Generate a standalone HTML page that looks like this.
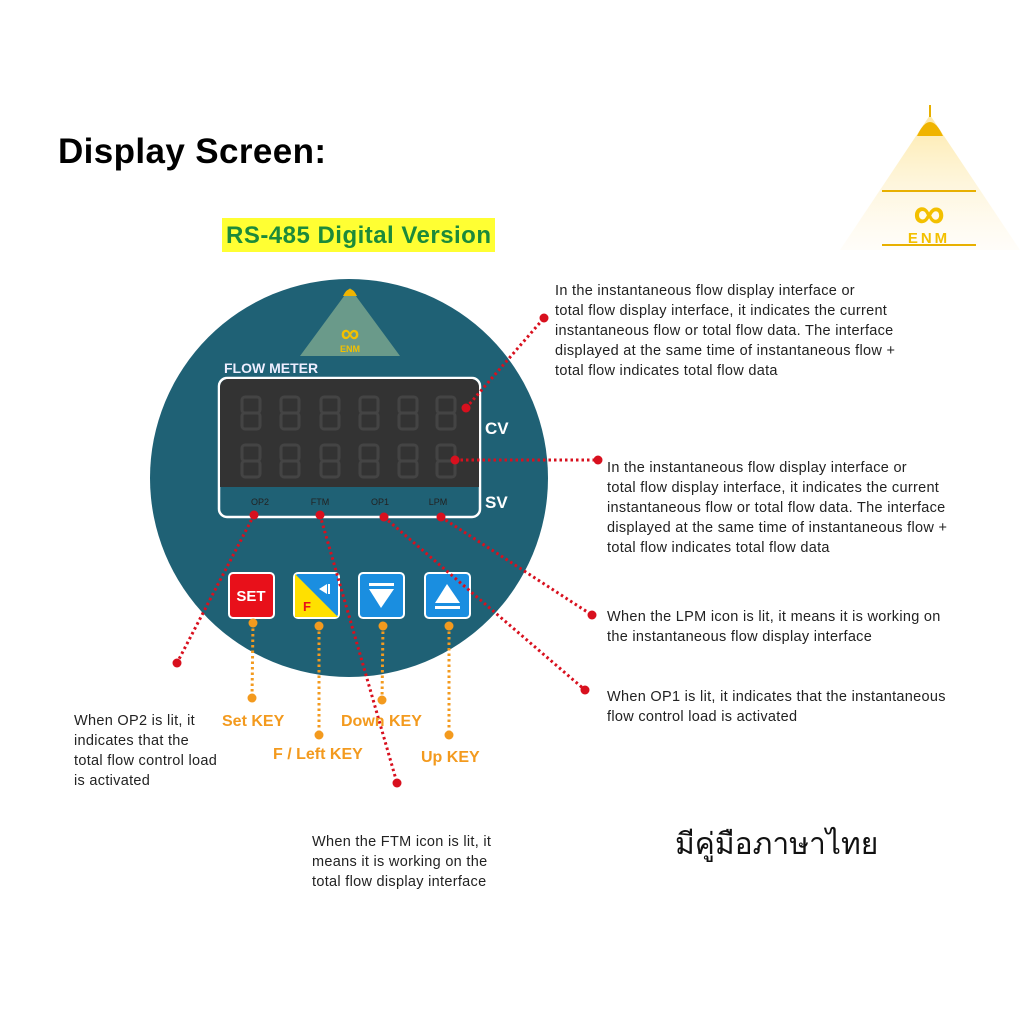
<!DOCTYPE html>
<html><head><meta charset="utf-8"><style>
body{margin:0;background:#fff;}
svg{display:block}
text{font-family:"Liberation Sans",sans-serif}
</style></head><body>
<svg width="1024" height="1024" viewBox="0 0 1024 1024">
<defs>
<linearGradient id="lg" x1="0" y1="0" x2="0" y2="1"><stop offset="0" stop-color="#fde9a8"/><stop offset="1" stop-color="#fffaf0" stop-opacity="0.4"/></linearGradient>
</defs>
<text x="58" y="163" font-size="35" font-weight="bold" fill="#000" textLength="268">Display Screen:</text>
<rect x="222" y="218" width="273" height="34" fill="#ffff33"/>
<text x="226" y="243" font-size="24" font-weight="bold" fill="#1c8a3a" textLength="265">RS-485 Digital Version</text>
<!-- top-right logo -->
<polygon points="930,115 840,250 1020,250" fill="url(#lg)"/>
<line x1="930" y1="105" x2="930" y2="117" stroke="#e8b000" stroke-width="2"/>
<path d="M917,136 Q930,108 943,136 Z" fill="#f0b400"/>
<rect x="882" y="190" width="94" height="2" fill="#e8b000"/>
<rect x="882" y="244" width="94" height="2" fill="#e8b000"/>
<text x="929" y="228" font-size="44" font-weight="bold" fill="#f3c000" text-anchor="middle">∞</text>
<text x="929" y="243" font-size="15" font-weight="bold" fill="#f3c000" text-anchor="middle" letter-spacing="3">ENM</text>
<!-- circle -->
<circle cx="349" cy="478" r="199" fill="#1f6175"/>
<polygon points="350,288 300,356 400,356" fill="#6a9a8a"/>
<path d="M343,296 Q350,282 357,296 Z" fill="#f0b400"/>
<text x="350" y="342" font-size="26" font-weight="bold" fill="#f3c000" text-anchor="middle">∞</text>
<text x="350" y="352" font-size="9" font-weight="bold" fill="#f3c000" text-anchor="middle">ENM</text>
<text x="224" y="373" font-size="14" font-weight="bold" fill="#eef">FLOW  METER</text>
<rect x="219" y="378" width="261" height="139" rx="8" fill="#1f6175" stroke="#fff" stroke-width="2.5"/>
<path d="M220,487 V387 a8,8 0 0 1 8,-8 H471 a8,8 0 0 1 8,8 V487 Z" fill="#333"/>
<g fill="none" stroke="#444" stroke-width="3">
<g id="d"><rect x="242" y="397" width="18" height="16" rx="3"/><rect x="242" y="413" width="18" height="16" rx="3"/></g>
<use href="#d" x="39"/><use href="#d" x="79"/><use href="#d" x="118"/><use href="#d" x="157"/><use href="#d" x="195"/>
<use href="#d" y="48"/><use href="#d" x="39" y="48"/><use href="#d" x="79" y="48"/><use href="#d" x="118" y="48"/><use href="#d" x="157" y="48"/><use href="#d" x="195" y="48"/>
</g>
<g font-size="9" fill="#222" text-anchor="middle"><text x="260" y="505">OP2</text><text x="320" y="505">FTM</text><text x="380" y="505">OP1</text><text x="438" y="505">LPM</text></g>
<text x="485" y="434" font-size="17" font-weight="bold" fill="#fff">CV</text>
<text x="485" y="508" font-size="17" font-weight="bold" fill="#fff">SV</text>
<!-- buttons -->
<rect x="229" y="573" width="45" height="45" rx="4" fill="#e8101a" stroke="#fff" stroke-width="2"/>
<text x="251" y="601" font-size="15" font-weight="bold" fill="#fff" text-anchor="middle">SET</text>
<rect x="294" y="573" width="45" height="45" rx="4" fill="#1a8ee0" stroke="#fff" stroke-width="2"/>
<polygon points="295,574 295,617 338,617" fill="#ffe000"/>
<text x="303" y="611" font-size="13" font-weight="bold" fill="#e8101a">F</text>
<polygon points="319,589 327,584 327,594" fill="#fff"/><rect x="328" y="584" width="2" height="10" fill="#fff"/>
<rect x="359" y="573" width="45" height="45" rx="4" fill="#1a8ee0" stroke="#fff" stroke-width="2"/>
<rect x="369" y="583" width="25" height="3" fill="#fff"/><polygon points="369,589 394,589 381,608" fill="#fff"/>
<rect x="425" y="573" width="45" height="45" rx="4" fill="#1a8ee0" stroke="#fff" stroke-width="2"/>
<polygon points="435,603 460,603 447,584" fill="#fff"/><rect x="435" y="606" width="25" height="3" fill="#fff"/>
<!-- red connectors -->
<g stroke="#d8101e" stroke-width="3" stroke-dasharray="2.5 3" fill="none">
<line x1="466" y1="408" x2="544" y2="318"/>
<line x1="455" y1="460" x2="598" y2="460"/>
<line x1="254" y1="515" x2="177" y2="663"/>
<line x1="320" y1="515" x2="397" y2="783"/>
<line x1="384" y1="517" x2="585" y2="690"/>
<line x1="441" y1="517" x2="592" y2="615"/>
</g>
<g fill="#d8101e">
<circle cx="466" cy="408" r="4.5"/><circle cx="544" cy="318" r="4.5"/>
<circle cx="455" cy="460" r="4.5"/><circle cx="598" cy="460" r="4.5"/>
<circle cx="254" cy="515" r="4.5"/><circle cx="177" cy="663" r="4.5"/>
<circle cx="320" cy="515" r="4.5"/><circle cx="397" cy="783" r="4.5"/>
<circle cx="384" cy="517" r="4.5"/><circle cx="585" cy="690" r="4.5"/>
<circle cx="441" cy="517" r="4.5"/><circle cx="592" cy="615" r="4.5"/>
</g>
<!-- orange connectors -->
<g stroke="#f39a1e" stroke-width="3" stroke-dasharray="2.5 3">
<line x1="253" y1="623" x2="252" y2="698"/>
<line x1="319" y1="626" x2="319" y2="735"/>
<line x1="383" y1="626" x2="382" y2="700"/>
<line x1="449" y1="626" x2="449" y2="735"/>
</g>
<g fill="#f39a1e">
<circle cx="253" cy="623" r="4.5"/><circle cx="252" cy="698" r="4.5"/>
<circle cx="319" cy="626" r="4.5"/><circle cx="319" cy="735" r="4.5"/>
<circle cx="383" cy="626" r="4.5"/><circle cx="382" cy="700" r="4.5"/>
<circle cx="449" cy="626" r="4.5"/><circle cx="449" cy="735" r="4.5"/>
</g>
<g font-size="16" font-weight="bold" fill="#f39a1e">
<text x="222" y="726">Set KEY</text><text x="341" y="726">Down KEY</text>
<text x="273" y="759">F / Left KEY</text><text x="421" y="762">Up KEY</text>
</g>
<!-- descriptions -->
<g font-size="14.5" fill="#222" letter-spacing="0.3">
<text x="555" y="295">In the instantaneous flow display interface or</text>
<text x="555" y="315"> total flow display interface, it indicates the current</text>
<text x="555" y="335">instantaneous flow or total flow data. The interface</text>
<text x="555" y="355">displayed at the same time of instantaneous flow +</text>
<text x="555" y="375">total flow indicates total flow data</text>
<text x="607" y="472">In the instantaneous flow display interface or</text>
<text x="607" y="492"> total flow display interface, it indicates the current</text>
<text x="607" y="512">instantaneous flow or total flow data. The interface</text>
<text x="607" y="532">displayed at the same time of instantaneous flow +</text>
<text x="607" y="552">total flow indicates total flow data</text>
<text x="607" y="621">When the LPM icon is lit, it means it is working on</text>
<text x="607" y="641">the instantaneous flow display interface</text>
<text x="607" y="701">When OP1 is lit, it indicates that the instantaneous</text>
<text x="607" y="721">flow control load is activated</text>
<text x="74" y="725">When OP2 is lit, it</text>
<text x="74" y="745">indicates that the</text>
<text x="74" y="765">total flow control load</text>
<text x="74" y="785">is activated</text>
<text x="312" y="846">When the FTM icon is lit, it</text>
<text x="312" y="866">means it is working on the</text>
<text x="312" y="886">total flow display interface</text>
</g>
<text x="675" y="854" font-size="30" fill="#111" font-family="'Liberation Sans','Noto Sans CJK SC',sans-serif">มีคู่มือภาษาไทย</text>
</svg>
</body></html>
